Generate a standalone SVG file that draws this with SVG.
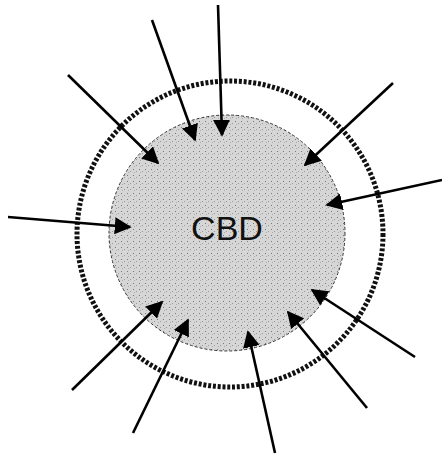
<svg xmlns="http://www.w3.org/2000/svg" width="442" height="455" viewBox="0 0 442 455">
<style>
.arr{stroke:#000;stroke-width:2.6;fill:none;marker-end:url(#ah)}
.cbd{fill:url(#stip);stroke:#333;stroke-width:1;stroke-dasharray:3 2}
.ring{fill:none;stroke:#111;stroke-width:5;stroke-dasharray:3 1.8}
.lbl{font-family:"Liberation Sans",Arial,sans-serif;font-size:34px;fill:#111;text-anchor:middle}
</style>
<defs>
<marker id="ah" viewBox="0 0 10 10" refX="9" refY="5" markerWidth="6.5" markerHeight="6.5" orient="auto" markerUnits="strokeWidth">
<path d="M0,0 L10,5 L0,10 z" fill="#000"/>
</marker>
<pattern id="stip" width="6" height="6" patternUnits="userSpaceOnUse">
<rect width="6" height="6" fill="#d6d6d6"/>
<rect x="1" y="1" width="1" height="1" fill="#777"/>
<rect x="4" y="3" width="1" height="1" fill="#999"/>
<rect x="2" y="4" width="1" height="1" fill="#aaa"/>
</pattern>
</defs>
<rect width="442" height="455" fill="#fff"/>
<g id="ring"><circle class="ring" cx="230" cy="234" r="153"/></g>
<g id="cbd">
<circle class="cbd" cx="227" cy="233" r="118"/>
<text class="lbl" x="227" y="240">CBD</text>
</g>
<g id="connectors">
<line class="arr" x1="218" y1="5" x2="222" y2="135"/>
<line class="arr" x1="152" y1="20" x2="195" y2="140"/>
<line class="arr" x1="68" y1="75" x2="158" y2="163"/>
<line class="arr" x1="8" y1="217" x2="130" y2="227"/>
<line class="arr" x1="72" y1="390" x2="162" y2="302"/>
<line class="arr" x1="133" y1="433" x2="188" y2="320"/>
<line class="arr" x1="275" y1="453" x2="248" y2="332"/>
<line class="arr" x1="367" y1="408" x2="288" y2="312"/>
<line class="arr" x1="415" y1="357" x2="312" y2="290"/>
<line class="arr" x1="442" y1="180" x2="327" y2="205"/>
<line class="arr" x1="393" y1="83" x2="305" y2="165"/>
</g>
</svg>
